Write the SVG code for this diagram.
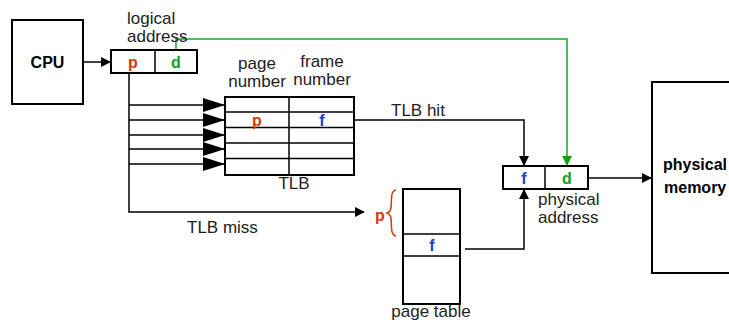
<svg xmlns="http://www.w3.org/2000/svg" width="729" height="322" viewBox="0 0 729 322">
<style>
.box{fill:#fff;stroke:#000;stroke-width:2}
.ln{fill:none;stroke:#000;stroke-width:1.5}
.t{font-family:"Liberation Sans",Arial,sans-serif;font-size:17px;fill:#222}
.b{font-family:"Liberation Sans",Arial,sans-serif;font-size:16px;font-weight:bold;fill:#000}
.red{fill:#d83b01}.grn{fill:#12a012}.blu{fill:#1a3fd6}
</style>
<defs>
<marker id="ah" markerWidth="10" markerHeight="10" refX="9" refY="5" orient="auto" markerUnits="userSpaceOnUse"><path d="M0,0 L10,5 L0,10 z" fill="#000"/></marker>
<marker id="big" markerWidth="22" markerHeight="14" refX="22" refY="7" orient="auto" markerUnits="userSpaceOnUse"><path d="M0,0 L22,7 L0,14 z" fill="#000"/></marker>
<marker id="ahg" markerWidth="10" markerHeight="10" refX="9" refY="5" orient="auto" markerUnits="userSpaceOnUse"><path d="M0,0 L10,5 L0,10 z" fill="#12a012"/></marker>
</defs>
<g id="connectors">
<path class="ln" d="M83,62 H110" marker-end="url(#ah)"/>
<path d="M176,50 V39 H567 V165" fill="none" stroke="#1aa51a" stroke-width="1.5" marker-end="url(#ahg)"/>
<path class="ln" d="M129,73 V212 H364" marker-end="url(#ah)"/>
<path class="ln" stroke-width="2" d="M129,105 H225" marker-end="url(#big)"/>
<path class="ln" stroke-width="2" d="M129,120 H225" marker-end="url(#big)"/>
<path class="ln" stroke-width="2" d="M129,135 H225" marker-end="url(#big)"/>
<path class="ln" stroke-width="2" d="M129,149 H225" marker-end="url(#big)"/>
<path class="ln" stroke-width="2" d="M129,164 H225" marker-end="url(#big)"/>
<path class="ln" d="M354,120 H524 V165" marker-end="url(#ah)"/>
<path class="ln" d="M465,249 H524 V190" marker-end="url(#ah)"/>
<path class="ln" stroke-width="2" d="M588,178 H651" marker-end="url(#ah)"/>
<text class="t" x="391" y="116">TLB hit</text>
<text class="t" x="187" y="233">TLB miss</text>
</g>
<g id="cpu">
<rect class="box" x="12" y="20" width="71" height="84"/>
<text class="b" x="47.5" y="68" text-anchor="middle">CPU</text>
</g>
<g id="logical-address">
<text class="t" x="127" y="24">logical</text>
<text class="t" x="127" y="42">address</text>
<rect class="box" x="111" y="50" width="86" height="23"/>
<line class="ln" stroke-width="2" x1="155" y1="50" x2="155" y2="73"/>
<text class="b red" x="133" y="68" text-anchor="middle" font-size="17">p</text>
<text class="b grn" x="176" y="68" text-anchor="middle" font-size="17">d</text>
</g>
<g id="tlb">
<text class="t" x="257" y="69" text-anchor="middle">page</text>
<text class="t" x="257" y="87" text-anchor="middle">number</text>
<text class="t" x="322" y="67" text-anchor="middle">frame</text>
<text class="t" x="322" y="85" text-anchor="middle">number</text>
<rect class="box" x="225" y="97" width="129" height="78"/>
<line class="ln" stroke-width="2" x1="289" y1="97" x2="289" y2="175"/>
<line class="ln" stroke-width="2" x1="225" y1="112" x2="354" y2="112"/>
<line class="ln" stroke-width="2" x1="225" y1="127.5" x2="354" y2="127.5"/>
<line class="ln" stroke-width="2" x1="225" y1="143" x2="354" y2="143"/>
<line class="ln" stroke-width="2" x1="225" y1="158.5" x2="354" y2="158.5"/>
<text class="b red" x="257" y="126" text-anchor="middle">p</text>
<text class="b blu" x="322" y="126" text-anchor="middle">f</text>
<text class="t" x="294" y="189" text-anchor="middle">TLB</text>
</g>
<g id="page-table">
<text class="b red" x="380" y="221" text-anchor="middle" font-size="17">p</text>
<path d="M396,190 C390,191 392,200 391,208 C390,212 388,213 386,213 C388,213 390,214 391,218 C392,226 390,235 396,236" fill="none" stroke="#d83b01" stroke-width="1.5"/>
<rect class="box" x="403" y="189" width="57" height="115"/>
<line class="ln" stroke-width="2" x1="403" y1="234" x2="460" y2="234"/>
<line class="ln" stroke-width="2" x1="403" y1="256" x2="460" y2="256"/>
<text class="b blu" x="432" y="251" text-anchor="middle">f</text>
<text class="t" x="431" y="317" text-anchor="middle">page table</text>
</g>
<g id="physical-address">
<rect class="box" x="503" y="166" width="85" height="23"/>
<line class="ln" stroke-width="2" x1="545" y1="166" x2="545" y2="189"/>
<text class="b blu" x="524" y="184" text-anchor="middle" font-size="17">f</text>
<text class="b grn" x="567" y="184" text-anchor="middle" font-size="17">d</text>
<text class="t" x="538" y="205">physical</text>
<text class="t" x="538" y="223">address</text>
</g>
<g id="physical-memory">
<rect class="box" x="652" y="82" width="90" height="191"/>
<text class="b" x="663" y="170">physical</text>
<text class="b" x="664" y="193">memory</text>
</g>
</svg>
